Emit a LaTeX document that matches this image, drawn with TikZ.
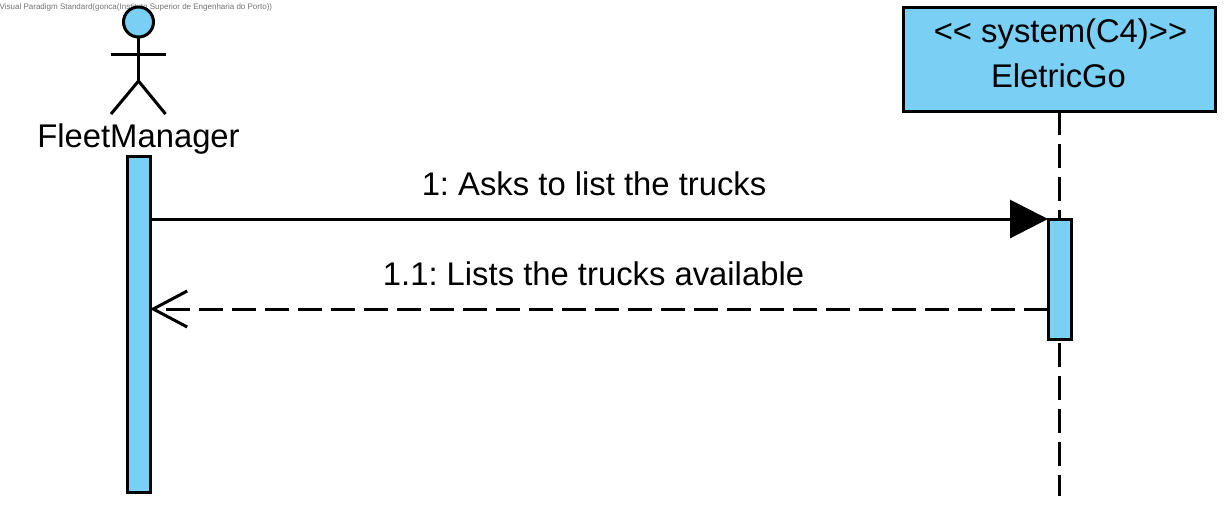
\documentclass[tikz,border=0pt]{standalone}
\usepackage{fontspec}
\setmainfont{Liberation Sans}
\usetikzlibrary{arrows.meta}
\definecolor{vpblue}{HTML}{7ACFF5}
\tikzset{
  shapeline/.style={draw=black,line width=3pt,fill=vpblue,inner sep=0pt,outer sep=0pt},
  actbar/.style={shapeline,rectangle,minimum width=23pt},
  stick/.style={draw=black,line width=3pt},
  lifeline/.style={draw=black,line width=3pt,dash pattern=on 24pt off 9pt},
  lbl/.style={font=\fontsize{32.8}{33}\selectfont,anchor=base,inner sep=0pt,text=black},
  synccall/.style={draw=black,line width=3pt,-{Triangle[length=38pt,width=38pt]}},
  reply/.style={draw=black,line width=3pt,dash pattern=on 24pt off 9pt,-{Straight Barb[length=34pt,width=36pt,line width=3pt]}}
}
\frenchspacing
\begin{document}
\begin{tikzpicture}[x=1pt,y=-1pt]
\useasboundingbox (0,0) rectangle (1230,507);
\fill[white] (0,0) rectangle (1230,507);
\node[font=\fontsize{8}{8}\selectfont,text=black!55,anchor=base west,inner sep=0pt] (wm) at (-0.5,9.5) {Visual Paradigm Standard(gonca(Instituto Superior de Engenharia do Porto))};
% actor
\node[shapeline,circle,minimum size=30pt] (head) at (138.5,22) {};
\coordinate (hip) at (138.5,81);
\coordinate (armL) at (111,54);
\coordinate (armR) at (165.5,54);
\coordinate (legL) at (111,114);
\coordinate (legR) at (165.5,114);
\draw[stick] (head.south) -- (hip);
\draw[stick] (armL) -- (armR);
\draw[stick] (legL) -- (hip) -- (legR);
\node[lbl] (fm) at (138.5,147) {FleetManager};
% system box
\node[shapeline,rectangle,minimum width=312pt,minimum height=104pt] (sys) at (1059,59) {};
\node[lbl] (sysA) at (1060.5,42) {<{}< system(C4)>{}>};
\node[lbl] (sysB) at (1058.5,87) {EletricGo};
% activations
\node[actbar,minimum height=336pt] (actL) at (138.5,324) {};
\node[actbar,minimum height=120pt] (actR) at (1059.5,279) {};
\coordinate (lifeEnd) at (1059.5,496);
\draw[lifeline] (sys.south -| actR.north) -- (actR.north);
\draw[lifeline,dash phase=29pt] (actR.south) -- (lifeEnd);
% messages
\coordinate (m1L) at (actL.east |- 0,219);
\coordinate (m1R) at (actR.west |- 0,219);
\coordinate (m2L) at (actL.east |- 0,309);
\coordinate (m2R) at (actR.west |- 0,309);
\draw[synccall] (m1L) -- (m1R);
\draw[reply] (m2R) -- (m2L);
\node[lbl] (l1) at (594,195) {1: Asks to list the trucks};
\node[lbl] (l2) at (593.5,285) {1.1: Lists the trucks available};
\end{tikzpicture}
\end{document}
